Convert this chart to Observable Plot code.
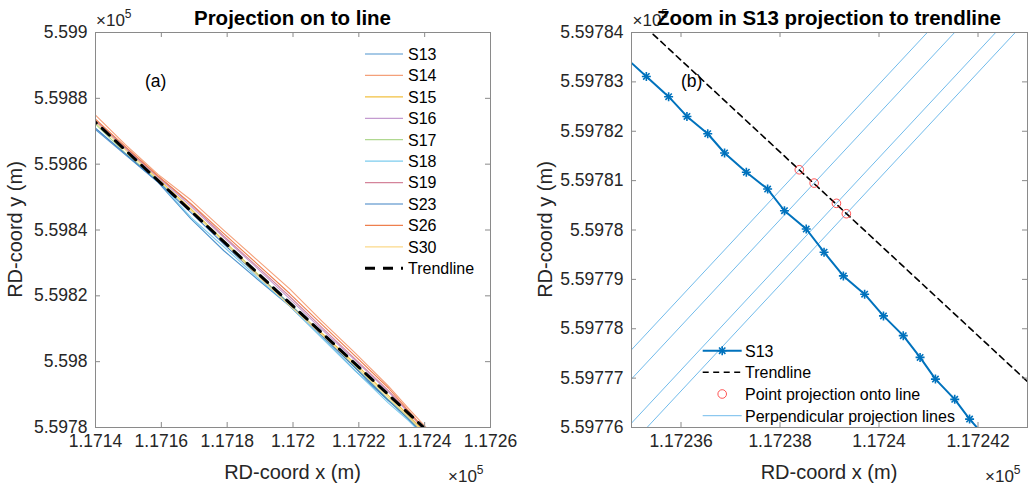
<!DOCTYPE html>
<html>
<head>
<meta charset="utf-8">
<script src="https://cdn.jsdelivr.net/npm/d3@7"></script>
<script src="https://cdn.jsdelivr.net/npm/@observablehq/plot@0.6"></script>
<style>
  html, body { margin: 0; padding: 0; background: #fff; }
  #chart { position: relative; width: 1031px; height: 486px; font-family: "Liberation Sans", Arial, Helvetica, sans-serif; }
  #chart svg { position: absolute; top: 0; overflow: visible; }
</style>
</head>
<body>
<div id="chart"></div>
<script>
// ---------------- data (RD coordinates, metres) ----------------
// Panel (a): shoreline profiles per survey
const leftX = [117140, 117149, 117159, 117169, 117179, 117189, 117199, 117209, 117219, 117229, 117235, 117241];
const xS18  = [117159, 117169, 117179, 117189, 117199, 117209, 117219, 117229, 117235, 117241];
const yS13 = [559870.5, 559862.9, 559854.5, 559843.4, 559833.7, 559825.2, 559816.9, 559807.1, 559797.1, 559788.2, 559783.4, 559776.9];
const yS14 = [559874.9, 559866.0, 559856.9, 559849.1, 559839.9, 559831.0, 559822.1, 559812.1, 559802.5, 559792.6, 559785.9, 559779.4];
const yS15 = [559873.2, 559864.6, 559855.5, 559846.4, 559836.8, 559826.9, 559817.4, 559808.4, 559799.3, 559789.7, 559783.8, 559777.6];
const yS16 = [559872.9, 559864.9, 559856.0, 559847.2, 559837.7, 559828.5, 559819.1, 559809.6, 559800.3, 559790.8, 559784.6, 559778.0];
const yS17 = [559872.2, 559863.4, 559855.1, 559846.0, 559836.5, 559826.7, 559817.6, 559807.8, 559798.3, 559788.5, 559782.9, 559776.8];
const yS18 = [559854.9, 559843.8, 559834.9, 559825.7, 559817.0, 559807.0, 559797.1, 559787.4, 559782.2, 559776.2];
const yS19 = [559873.3, 559865.2, 559856.3, 559847.8, 559838.1, 559829.0, 559819.8, 559810.2, 559800.7, 559791.2, 559784.9, 559778.2];
const yS23 = [559870.9, 559863.2, 559854.6, 559845.3, 559835.7, 559826.4, 559817.5, 559807.7, 559798.0, 559788.2, 559782.6, 559776.6];
const yS26 = [559873.7, 559865.4, 559856.4, 559848.0, 559838.9, 559829.8, 559820.7, 559811.1, 559801.6, 559792.0, 559785.2, 559778.3];
const yS30 = [559872.6, 559864.4, 559855.4, 559846.0, 559836.3, 559826.4, 559817.0, 559808.0, 559798.8, 559789.1, 559783.3, 559777.2];

const seriesNames  = ["S13", "S14", "S15", "S16", "S17", "S18", "S19", "S23", "S26", "S30"];
const seriesColors = ["#4f94cd", "#f4a07a", "#f2c040", "#c49bd0", "#b0d890", "#7dccee", "#d4849a", "#3f82c4", "#ee7f4e", "#fbd98a"];
const seriesX = [leftX, leftX, leftX, leftX, leftX, xS18, leftX, leftX, leftX, leftX];
const seriesY = [yS13, yS14, yS15, yS16, yS17, yS18, yS19, yS23, yS26, yS30];

// Fitted trendline (end points)
const trendX = [117130, 117250];
const trendY = [559882.02, 559770.42];

// Panel (b): S13 measured points around the zoom window
const s13X = [117234.86, 117235.30, 117235.75, 117236.12, 117236.54, 117236.88, 117237.32, 117237.75, 117238.09, 117238.53,
              117238.89, 117239.28, 117239.71, 117240.09, 117240.49, 117240.83, 117241.14, 117241.53, 117241.83, 117242.20];
const s13Y = [559783.51, 559783.11, 559782.70, 559782.30, 559781.95, 559781.56, 559781.17, 559780.83, 559780.39, 559780.02,
              559779.55, 559779.07, 559778.70, 559778.26, 559777.86, 559777.42, 559776.98, 559776.57, 559776.17, 559775.75];

// Points projected onto the trendline
const projX = [117238.39, 117238.69, 117239.14, 117239.34];
const projY = [559781.22, 559780.95, 559780.54, 559780.33];

// Axis ticks
const leftXTicks  = [117140, 117160, 117180, 117200, 117220, 117240, 117260];
const leftYTicks  = [559780, 559800, 559820, 559840, 559860, 559880, 559900];
const rightXTicks = [117236, 117238, 117240, 117242];
const rightYTicks = [559776, 559777, 559778, 559779, 559780, 559781, 559782, 559783, 559784];

// Panel annotations (data coordinates)
const labelA = {x: 117155, y: 559885, text: "(a)"};
const labelB = {x: 117236, y: 559783, text: "(b)"};

// ---------------- drawing ----------------
const FONT = '"Liberation Sans", Arial, Helvetica, sans-serif';
const frameColor = "#8a8a8a";
const textColor = "#262626";
const H = 486, mTop = 32, mBottom = 59;
const innerH = H - mTop - mBottom;
const tickLen = 5;
const tickFont = 17.5;
const fmt = d => String(+(d / 1e5).toFixed(6));

function boxMarks(xt, yt, innerW) {
  return [
    Plot.frame({stroke: frameColor, strokeWidth: 1}),
    Plot.tickX(xt, {x: d => d, stroke: frameColor, insetTop: innerH - tickLen}),
    Plot.tickX(xt, {x: d => d, stroke: frameColor, insetBottom: innerH - tickLen}),
    Plot.tickY(yt, {y: d => d, stroke: frameColor, insetRight: innerW - tickLen}),
    Plot.tickY(yt, {y: d => d, stroke: frameColor, insetLeft: innerW - tickLen}),
    Plot.axisX({ticks: xt, anchor: "bottom", tickSize: 0, tickPadding: 7.5, tickFormat: fmt, fontSize: tickFont, fill: textColor, label: null}),
    Plot.axisY({ticks: yt, anchor: "left", tickSize: 0, tickPadding: 8, tickFormat: fmt, fontSize: tickFont, fill: textColor, label: null})
  ];
}

const trendRows = d3.zip(trendX, trendY).map(([x, y]) => ({x, y}));

// ----- panel (a) -----
const W1 = 515, mL1 = 95, mR1 = 25;
const seriesLines = seriesNames.map((name, i) =>
  Plot.line(d3.zip(seriesX[i], seriesY[i]).map(([x, y]) => ({x, y})),
    {x: "x", y: "y", stroke: seriesColors[i], strokeWidth: 1.1, clip: true}));

const plotA = Plot.plot({
  width: W1, height: H,
  marginLeft: mL1, marginRight: mR1, marginTop: mTop, marginBottom: mBottom,
  x: {domain: [117140, 117260]},
  y: {domain: [559780, 559900]},
  style: {fontFamily: FONT, fontSize: tickFont + "px", color: textColor, background: "transparent", overflow: "visible"},
  marks: [
    ...seriesLines,
    Plot.line(trendRows, {x: "x", y: "y", stroke: "#000", strokeWidth: 3, strokeDasharray: "10,8", clip: true}),
    Plot.text([labelA], {x: "x", y: "y", text: "text", textAnchor: "start", fontSize: 17.5, fill: "#000"}),
    ...boxMarks(leftXTicks, leftYTicks, W1 - mL1 - mR1)
  ]
});

// ----- panel (b) -----
const W2 = 516, mL2 = 116, mR2 = 4;
const slope = (trendY[1] - trendY[0]) / (trendX[1] - trendX[0]);
const perpSlope = -1 / slope;
const perpRows = projX.map((px, i) => ({x1: px - 8, y1: projY[i] - 8 * perpSlope, x2: px + 8, y2: projY[i] + 8 * perpSlope}));
const s13Rows = d3.zip(s13X, s13Y).map(([x, y]) => ({x, y}));
const projRows = d3.zip(projX, projY).map(([x, y]) => ({x, y}));
const s13Color = "#0072bd";

const plotB = Plot.plot({
  width: W2, height: H,
  marginLeft: mL2, marginRight: mR2, marginTop: mTop, marginBottom: mBottom,
  x: {domain: [117235, 117243]},
  y: {domain: [559776, 559784]},
  style: {fontFamily: FONT, fontSize: tickFont + "px", color: textColor, background: "transparent", overflow: "visible"},
  marks: [
    Plot.link(perpRows, {x1: "x1", y1: "y1", x2: "x2", y2: "y2", stroke: "#4daae6", strokeWidth: 0.8, clip: true}),
    Plot.line(s13Rows, {x: "x", y: "y", stroke: s13Color, strokeWidth: 2, clip: true}),
    Plot.dot(s13Rows, {x: "x", y: "y", symbol: "plus", r: 3, stroke: s13Color, strokeWidth: 1.6, clip: true}),
    Plot.dot(s13Rows, {x: "x", y: "y", symbol: "times", r: 3, stroke: s13Color, strokeWidth: 1.6, clip: true}),
    Plot.line(trendRows, {x: "x", y: "y", stroke: "#000", strokeWidth: 1.6, strokeDasharray: "6,4.5", clip: true}),
    Plot.dot(projRows, {x: "x", y: "y", r: 4.3, stroke: "#ff2b2b", strokeWidth: 0.8, fill: "none"}),
    Plot.text([labelB], {x: "x", y: "y", text: "text", textAnchor: "start", fontSize: 17.5, fill: "#000"}),
    ...boxMarks(rightXTicks, rightYTicks, W2 - mL2 - mR2)
  ]
});

const chart = document.getElementById("chart");
plotA.style.left = "0px";
plotB.style.left = W1 + "px";
chart.appendChild(plotA);
chart.appendChild(plotB);

// ----- titles, axis labels, exponent labels, legends -----
function annotate(svg, o) {
  const s = d3.select(svg);
  const g = s.append("g").attr("font-family", FONT).attr("text-anchor", "start");
  // exponent labels
  const expo = (x, y) => {
    const t = g.append("text").attr("x", x).attr("y", y).attr("fill", textColor).attr("font-size", 17);
    t.append("tspan").text("\u00d710");
    t.append("tspan").attr("font-size", 12).attr("dy", -8).text("5");
  };
  expo(o.expTopX, 26);
  expo(o.expBotX, 481.5);
  // axis labels
  g.append("text").attr("x", o.cx).attr("y", 479).attr("text-anchor", "middle")
    .attr("font-size", 20).attr("fill", textColor).text("RD-coord x (m)");
  g.append("text").attr("transform", `translate(${o.ylabX},${mTop + innerH / 2}) rotate(-90)`)
    .attr("text-anchor", "middle").attr("font-size", 20).attr("fill", textColor).text("RD-coord y (m)");
  // title
  g.append("text").attr("x", o.cx).attr("y", 24.5).attr("text-anchor", "middle")
    .attr("font-size", 20.5).attr("font-weight", "bold").attr("fill", "#000").text(o.title);
  return g;
}

const gA = annotate(plotA, {cx: mL1 + (W1 - mL1 - mR1) / 2, ylabX: 22, expTopX: 96, expBotX: 448, title: "Projection on to line"});
const gB = annotate(plotB, {cx: mL2 + (W2 - mL2 - mR2) / 2, ylabX: 552 - W1, expTopX: 632.5 - W1, expBotX: 985 - W1, title: "Zoom in S13 projection to trendline"});

// legend of panel (a)
const legA = gA.append("g");
const legRows = seriesNames.map((n, i) => ({name: n, color: seriesColors[i], dash: null, w: 1.2}))
  .concat([{name: "Trendline", color: "#000", dash: "10,8", w: 3}]);
legRows.forEach((r, i) => {
  const y = 54 + i * 21.43;
  legA.append("line").attr("x1", 365).attr("x2", 403).attr("y1", y).attr("y2", y)
    .attr("stroke", r.color).attr("stroke-width", r.w).attr("stroke-dasharray", r.dash);
  legA.append("text").attr("x", 408).attr("y", y + 5.8).attr("font-size", 16).attr("fill", "#000").text(r.name);
});

// legend of panel (b)
const legB = gB.append("g");
const lx1 = 702.7 - W1, lx2 = 741.7 - W1, lmx = (lx1 + lx2) / 2, ltx = 745 - W1;
const rowsB = [350.7, 372.3, 394, 415.7];
legB.append("line").attr("x1", lx1).attr("x2", lx2).attr("y1", rowsB[0]).attr("y2", rowsB[0])
  .attr("stroke", s13Color).attr("stroke-width", 2);
[d3.symbolPlus, d3.symbolTimes].forEach(t => {
  legB.append("path").attr("d", d3.symbol(t, Math.PI * 3 * 3)()).attr("transform", `translate(${lmx},${rowsB[0]})`)
    .attr("fill", "none").attr("stroke", s13Color).attr("stroke-width", 1.6);
});
legB.append("line").attr("x1", lx1).attr("x2", lx2).attr("y1", rowsB[1]).attr("y2", rowsB[1])
  .attr("stroke", "#000").attr("stroke-width", 1.6).attr("stroke-dasharray", "6,4.5");
legB.append("circle").attr("cx", lmx).attr("cy", rowsB[2]).attr("r", 4.3)
  .attr("fill", "none").attr("stroke", "#ff2b2b").attr("stroke-width", 0.8);
legB.append("line").attr("x1", lx1).attr("x2", lx2).attr("y1", rowsB[3]).attr("y2", rowsB[3])
  .attr("stroke", "#4daae6").attr("stroke-width", 0.8);
["S13", "Trendline", "Point projection onto line", "Perpendicular projection lines"].forEach((t, i) => {
  legB.append("text").attr("x", ltx).attr("y", rowsB[i] + 5.8).attr("font-size", 16).attr("fill", "#000").text(t);
});
</script>
</body>
</html>
